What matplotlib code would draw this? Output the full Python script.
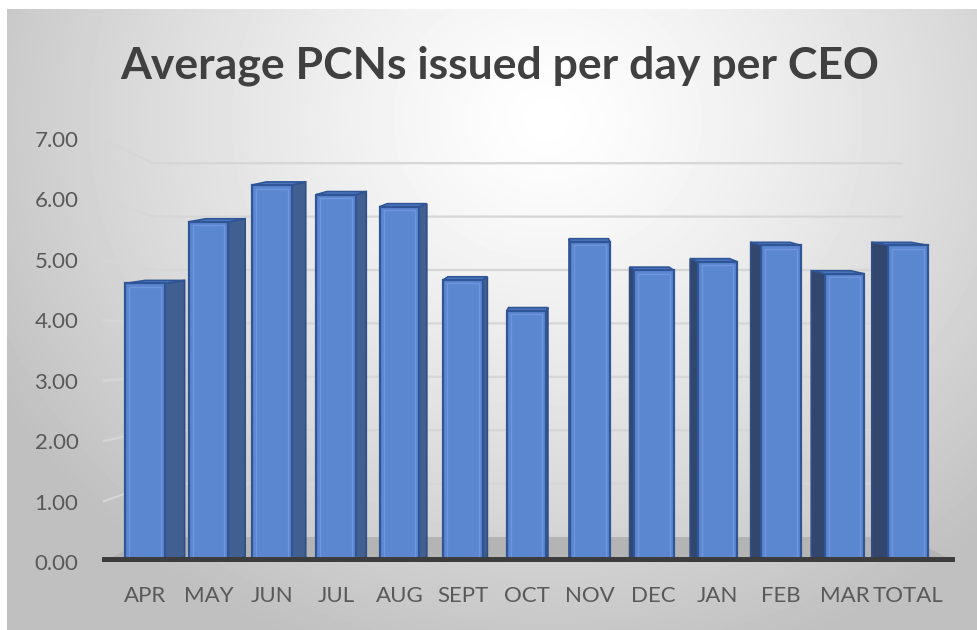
import numpy as np
import matplotlib
matplotlib.use("Agg")
import matplotlib.pyplot as plt
from matplotlib.patches import Polygon

# ---- data ----
categories = ["APR", "MAY", "JUN", "JUL", "AUG", "SEPT", "OCT", "NOV",
              "DEC", "JAN", "FEB", "MAR", "TOTAL"]
values = [4.61, 5.63, 6.24, 6.08, 5.88, 4.67, 4.16, 5.30,
          4.83, 4.97, 5.24, 4.77, 5.24]
y_ticks = [0, 1, 2, 3, 4, 5, 6, 7]
title = "Average PCNs issued per day per CEO"

W, H = 978, 630
fig = plt.figure(figsize=(W / 100, H / 100), dpi=100)
fig.patch.set_facecolor("white")

# ---- background radial gradient ----
bg = fig.add_axes([7 / W, 0, 1 - 7 / W, 1 - 9 / H])
yy, xx = np.mgrid[0:621, 0:971]
cx, cy = 540, 110
r = np.sqrt(((xx - cx) / 1.05) ** 2 + ((yy - cy) / 0.95) ** 2)
t = np.clip(r / 600, 0, 1) ** 1.25
img = 1.0 - t * (1.0 - 0.75)
bg.imshow(img, cmap="gray", vmin=0, vmax=1, aspect="auto",
          extent=[0, 1, 0, 1], interpolation="bilinear")
bg.axis("off")

# ---- main axes ----
x0_px, x1_px = 102, 955
y0_px, y7_px = 562, 139   # pixel rows of value 0 and 7 (from top)
ax = fig.add_axes([x0_px / W, (H - y0_px) / H, (x1_px - x0_px) / W,
                   (y0_px - y7_px) / H])
ax.patch.set_alpha(0)
px_per_cat = 63.6
first_px = 145
xmin = (x0_px - first_px) / px_per_cat
xmax = (x1_px - first_px) / px_per_cat
ax.set_xlim(xmin, xmax)
ax.set_ylim(0, 7)
for s in ax.spines.values():
    s.set_visible(False)

px_per_val = (y0_px - y7_px) / 7.0


def back_v(v):
    # value drawn on back wall (perspective)
    return (25 + 53.4 * v) / px_per_val


def px2x(p):
    return (p - first_px) / px_per_cat


# floor
floor = Polygon([(xmin, 0), (xmax, 0), (px2x(908), back_v(0)),
                 (px2x(152), back_v(0))], closed=True,
                facecolor="#b4b4b4", edgecolor="none", zorder=1)
ax.add_patch(floor)

# gridlines (left wall + back wall)
for v in y_ticks[1:]:
    ax.plot([px2x(103), px2x(153), px2x(903)], [v, back_v(v), back_v(v)],
            color="#d6d6d6", lw=1.6, zorder=0.5, solid_capstyle="butt")

# bars
x = np.arange(len(categories))
bw = 0.62
bars = ax.bar(x, values, width=bw, color="#5b87d0", edgecolor="#2f5597",
              linewidth=1.6, zorder=3)
# subtle inner bevel
ax.bar(x, [v - 0.12 for v in values], bottom=0.06, width=bw * 0.8,
       color="none", edgecolor="#6d96dc", linewidth=1.0, zorder=3.2)

dy_top, dy_bot = 0.05, 0.09
vp = 560
for i, v in enumerate(values):
    cpx = first_px + px_per_cat * i
    dx = 0.048 * (vp - cpx) / px_per_cat
    xl, xr = i - bw / 2, i + bw / 2
    if dx > 0:
        edge = xr
        side_col = "#415f91"
    else:
        edge = xl
        side_col = "#33466e"
    side = Polygon([(edge, 0), (edge, v), (edge + dx, v + dy_top),
                    (edge + dx, dy_bot)], closed=True, facecolor=side_col,
                   edgecolor="#2f4f86", linewidth=1.2, zorder=2.5)
    ax.add_patch(side)
    top = Polygon([(xl, v), (xr, v), (xr + dx, v + dy_top),
                   (xl + dx, v + dy_top)], closed=True, facecolor="#4f7bc4",
                  edgecolor="#2f5597", linewidth=1.2, zorder=2.6)
    ax.add_patch(top)

# dark front edge of the floor
ax.axhline(0.03, color="#3c3c3c", lw=5, zorder=4, xmin=0, xmax=1)

ax.set_yticks(y_ticks)
ax.set_yticklabels([f"{v:.2f}" for v in y_ticks])
ax.set_xticks(x)
ax.set_xticklabels(categories)
ax.tick_params(axis="both", length=0, colors="#595959")
for lab in ax.get_yticklabels():
    lab.set_fontfamily("Lato")
    lab.set_fontsize(16)
    lab.set_color("#595959")
for lab in ax.get_xticklabels():
    lab.set_fontfamily("Lato")
    lab.set_fontsize(16)
    lab.set_color("#595959")
ax.tick_params(axis="y", pad=17)
ax.tick_params(axis="x", pad=17)

fig.text(500 / W, 1 - 66 / H, title, ha="center", va="center",
         fontsize=32, fontweight="bold", family="Lato", color="#404040")

fig.savefig("out.png", dpi=100)
